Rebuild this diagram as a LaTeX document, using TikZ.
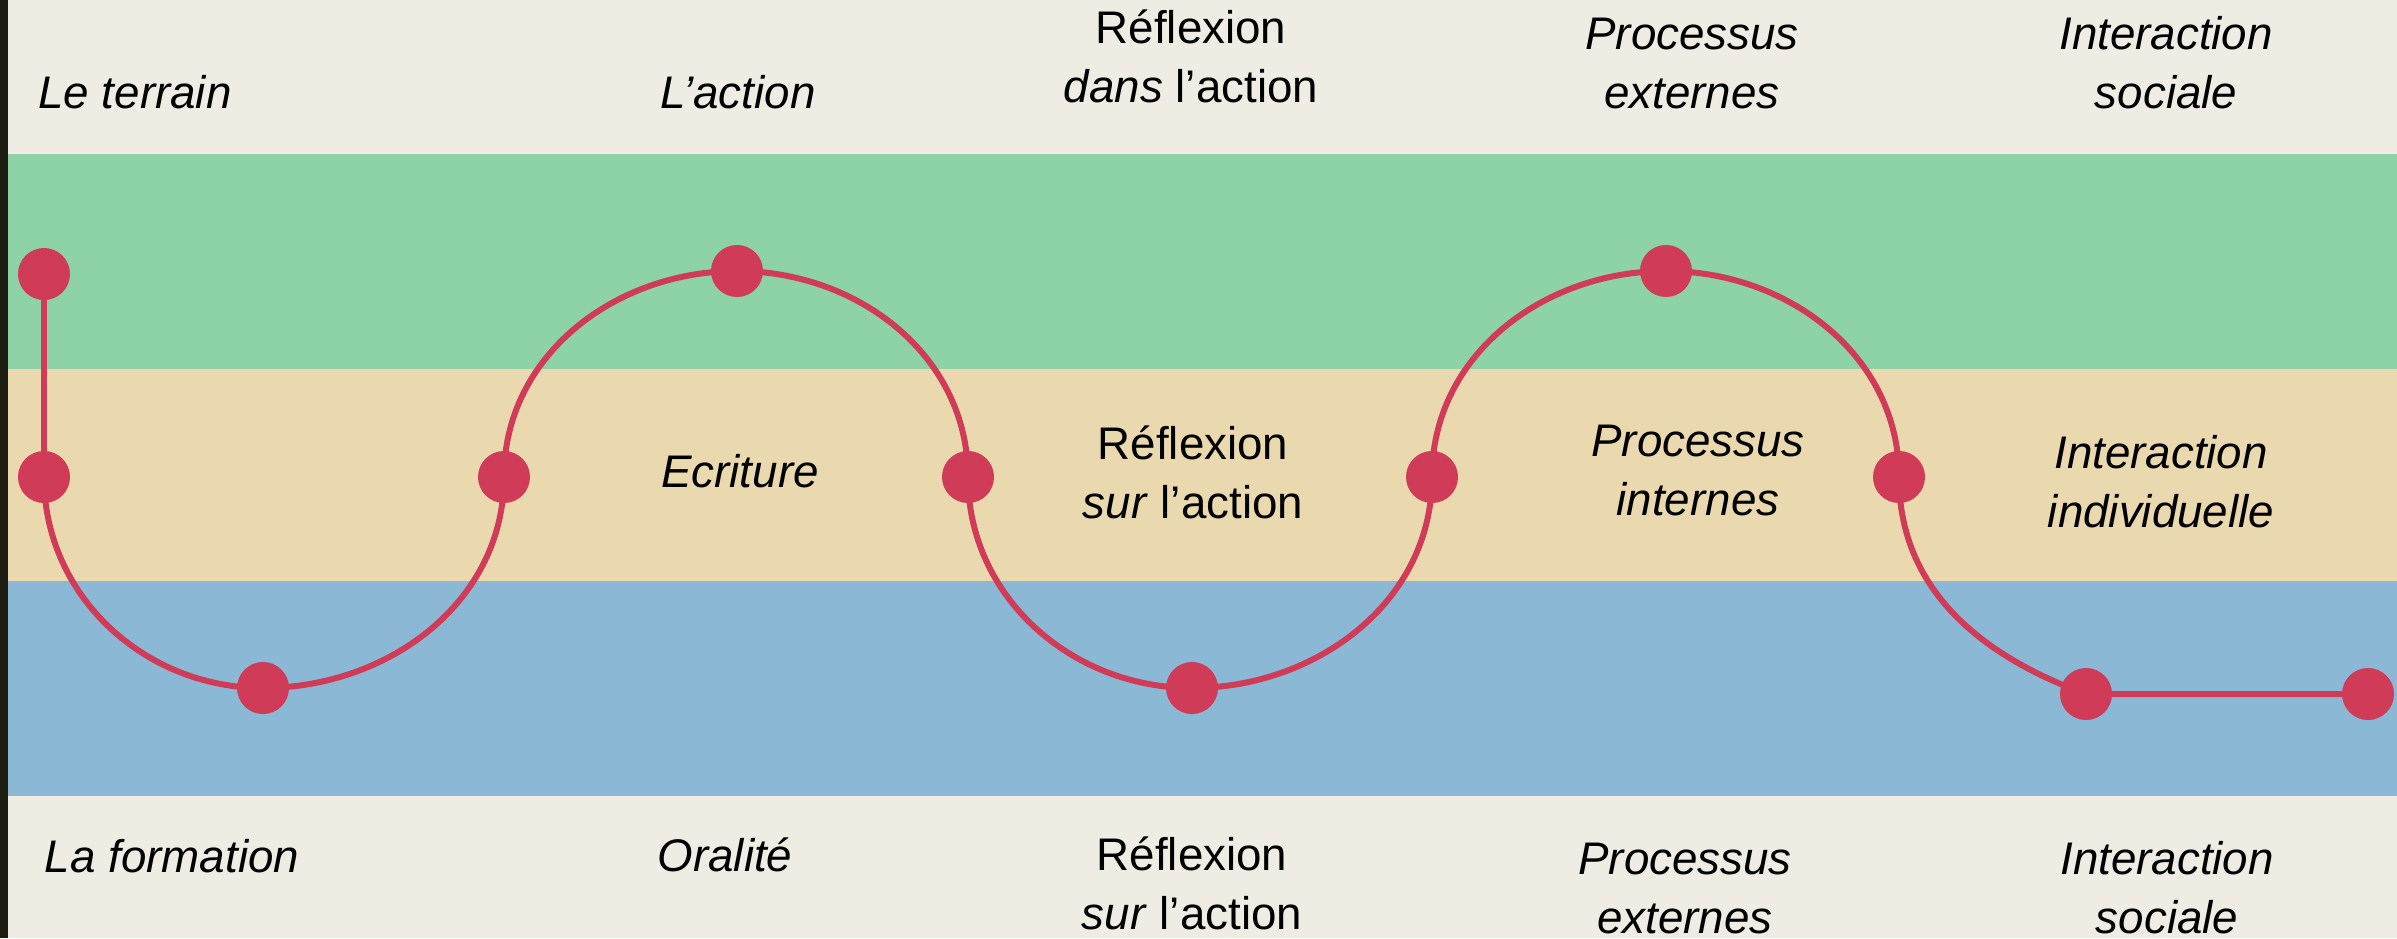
\documentclass[tikz,border=0pt]{standalone}
\usepackage{fontspec}
\setmainfont{Liberation Sans}
\definecolor{fond}{HTML}{EFECE4}
\definecolor{vert}{HTML}{8DD3A7}
\definecolor{sable}{HTML}{EAD9AE}
\definecolor{bleu}{HTML}{8BB8D4}
\definecolor{rouge}{HTML}{D03B57}
\definecolor{bord}{HTML}{1C1C10}

\begin{document}
\begin{tikzpicture}[x=0.01cm,y=0.01cm,
  pt/.style={circle,fill=rouge,inner sep=0pt,minimum size=0.52cm},
  txt/.style={font=\fontsize{13}{16.7}\selectfont,align=center,anchor=base,inner sep=0pt},
  txti/.style={txt,font=\fontsize{13}{16.7}\selectfont\itshape}]
  \def\ymid{461}
  \def\ybas{250}
  \def\yhaut{667}

  \useasboundingbox (0,0) rectangle (2397,938);
  \clip (0,0) rectangle (2397,938);
  \fill[fond]  (0,0)   rectangle (2397,938);
  \fill[vert]  (0,569) rectangle (2397,784);
  \fill[sable] (0,357) rectangle (2397,569);
  \fill[bleu]  (0,142) rectangle (2397,357);
  \fill[bord]  (0,0)   rectangle (8,938);

  \node[pt] (a) at (44,   664)     {};
  \node[pt] (b) at (44,   \ymid)   {};
  \node[pt] (c) at (263,  \ybas)   {};
  \node[pt] (d) at (504,  \ymid)   {};
  \node[pt] (e) at (737,  \yhaut)  {};
  \node[pt] (f) at (968,  \ymid)   {};
  \node[pt] (g) at (1192, \ybas)   {};
  \node[pt] (h) at (1432, \ymid)   {};
  \node[pt] (i) at (1666, \yhaut)  {};
  \node[pt] (j) at (1899, \ymid)   {};
  \node[pt] (k) at (2086, 244)     {};
  \node[pt] (l) at (2368, 244)     {};

  \draw[rouge,line width=1.7pt] (a.center) -- (b.center)
    to[out=-90,in=180] (c.center) to[out=0,in=-90] (d.center)
    to[out=90,in=180]  (e.center) to[out=0,in=90]  (f.center)
    to[out=-90,in=180] (g.center) to[out=0,in=-90] (h.center)
    to[out=90,in=180]  (i.center) to[out=0,in=90]  (j.center)
    to[out=-90,in=160] (k.center) -- (l.center);

  \node[txti] (t1) at (135,  830) {Le terrain};
  \node[txti] (t2) at (738,  830) {L’action};
  \node[txt]  (t3) at (1191, 836) {Réflexion\\\textit{dans} l’action};
  \node[txti] (t4) at (1692, 830) {Processus\\externes};
  \node[txti] (t5) at (2166, 830) {Interaction\\sociale};

  \node[txti] (m1) at (740,  451) {Ecriture};
  \node[txt]  (m2) at (1193, 420) {Réflexion\\\textit{sur} l’action};
  \node[txti] (m3) at (1698, 423) {Processus\\internes};
  \node[txti] (m4) at (2161, 411) {Interaction\\individuelle};

  \node[txti] (b1) at (172,  66)  {La formation};
  \node[txti] (b2) at (725,  67)  {Oralité};
  \node[txt]  (b3) at (1192, 9)   {Réflexion\\\textit{sur} l’action};
  \node[txti] (b4) at (1685, 5)   {Processus\\externes};
  \node[txti] (b5) at (2167, 5)   {Interaction\\sociale};
\end{tikzpicture}
\end{document}
